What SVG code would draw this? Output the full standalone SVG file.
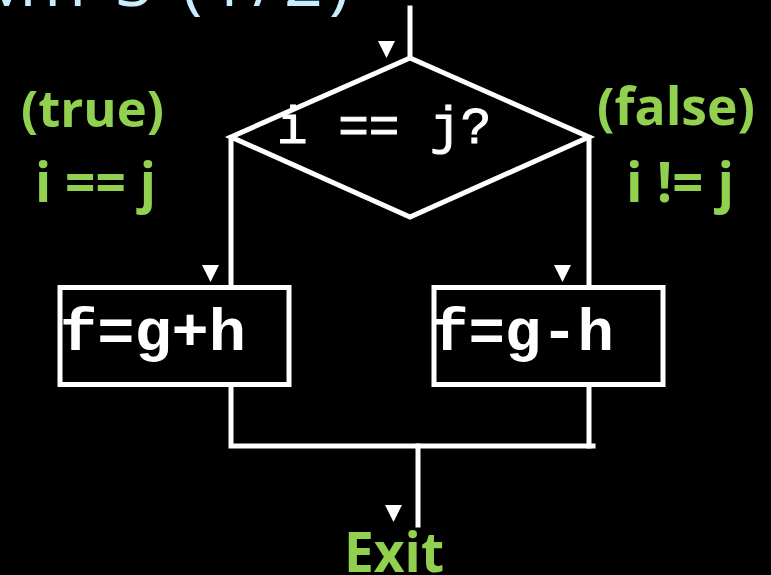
<svg xmlns="http://www.w3.org/2000/svg" width="771" height="575" viewBox="0 0 771 575">
<style>
.ln{stroke:#fff;stroke-width:5;fill:none;stroke-linecap:square}
.box{stroke:#fff;stroke-width:5;fill:#000}
.tri{fill:#fff}
.code{font-family:"Liberation Mono","Courier New",monospace;fill:#fff}
.lbl{font-family:"Open Sans","Liberation Sans",sans-serif;font-weight:bold;fill:#92D050}
</style>
<rect width="771" height="575" fill="#000"/>
<text x="355" y="6" text-anchor="end" font-family="'Open Sans','Liberation Sans',sans-serif" font-size="68" fill="#C6EEFF" letter-spacing="6">MIPS (1/2)</text>
<g id="connectors">
<line class="ln" x1="410" y1="8" x2="410" y2="56"/>
<polyline class="ln" points="231,138 231,284" />
<polyline class="ln" points="589,138 589,284" />
<polyline class="ln" points="231,388 231,446 593,446" />
<line class="ln" x1="589" y1="388" x2="589" y2="446"/>
<line class="ln" x1="418" y1="446" x2="418" y2="525"/>
<polygon class="tri" points="378,41 395,41 386.5,58"/>
<polygon class="tri" points="202,265 219,265 210.5,282"/>
<polygon class="tri" points="554,265 571,265 562.5,282"/>
<polygon class="tri" points="385,505 402,505 393.5,522"/>
</g>
<g id="decision">
<polygon points="410,58 231,137 410,217 589,137" fill="#000" stroke="#fff" stroke-width="5" stroke-linejoin="miter"/>
<text class="code" x="277" y="143" font-size="51" stroke="#fff" stroke-width="1">i == j?</text>
</g>
<g id="true-box">
<rect class="box" x="60" y="287.5" width="229" height="97"/>
<text class="code" x="60" y="350" font-size="59" font-weight="bold" textLength="186" lengthAdjust="spacingAndGlyphs">f=g+h</text>
</g>
<g id="false-box">
<rect class="box" x="434" y="287.5" width="229" height="97"/>
<text class="code" x="432" y="350" font-size="59" font-weight="bold" textLength="182" lengthAdjust="spacingAndGlyphs">f=g-h</text>
</g>
<g id="true-label">
<text class="lbl" x="21" y="127" font-size="50" textLength="143" lengthAdjust="spacingAndGlyphs">(true)</text>
<text class="lbl" x="35" y="202" font-size="56" textLength="121" lengthAdjust="spacingAndGlyphs">i == j</text>
</g>
<g id="false-label">
<text class="lbl" x="597" y="125" font-size="52" textLength="158" lengthAdjust="spacingAndGlyphs">(false)</text>
<text class="lbl" x="626" y="202" font-size="56" textLength="108" lengthAdjust="spacingAndGlyphs">i != j</text>
</g>
<g id="exit">
<text class="lbl" x="344" y="572" font-size="56" textLength="100" lengthAdjust="spacingAndGlyphs">Exit</text>
</g>
</svg>
